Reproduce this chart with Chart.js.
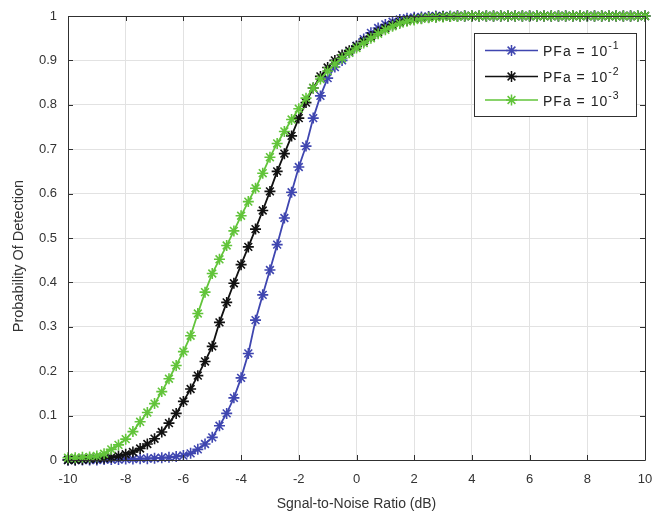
<!DOCTYPE html>
<html>
<head>
<meta charset="utf-8">
<script src="https://cdn.jsdelivr.net/npm/chart.js@4.4.1/dist/chart.umd.min.js"></script>
<style>
  html, body { margin: 0; padding: 0; background: #ffffff; }
  #wrap { width: 654px; height: 515px; position: relative; }
</style>
</head>
<body>
<div id="wrap"><canvas id="c" width="654" height="515"></canvas></div>
<script>
// ---- data ----
const snrDb = [
  -10, -9.75, -9.5, -9.25, -9, -8.75, -8.5, -8.25, -8, -7.75, -7.5, -7.25, -7,
  -6.75, -6.5, -6.25, -6, -5.75, -5.5, -5.25, -5, -4.75, -4.5, -4.25, -4,
  -3.75, -3.5, -3.25, -3, -2.75, -2.5, -2.25, -2, -1.75, -1.5, -1.25, -1,
  -0.75, -0.5, -0.25, 0, 0.25, 0.5, 0.75, 1, 1.25, 1.5, 1.75, 2,
  2.25, 2.5, 2.75, 3, 3.25, 3.5, 3.75, 4, 4.25, 4.5, 4.75, 5,
  5.25, 5.5, 5.75, 6, 6.25, 6.5, 6.75, 7, 7.25, 7.5, 7.75, 8,
  8.25, 8.5, 8.75, 9, 9.25, 9.5, 9.75, 10
];

const pdPfa1 = [
  0, 0, 0, 0, 0, 0.001, 0.001, 0.001, 0.002, 0.002, 0.003, 0.003, 0.004,
  0.005, 0.006, 0.008, 0.010, 0.015, 0.024, 0.036, 0.051, 0.077, 0.105, 0.140, 0.185,
  0.240, 0.315, 0.372, 0.428, 0.485, 0.545, 0.603, 0.660, 0.707, 0.770, 0.820, 0.860,
  0.885, 0.900, 0.918, 0.933, 0.948, 0.962, 0.973, 0.981, 0.987, 0.992, 0.995, 0.997,
  0.998, 0.999, 1, 1, 1, 1, 1, 1, 1, 1, 1, 1,
  1, 1, 1, 1, 1, 1, 1, 1, 1, 1, 1, 1,
  1, 1, 1, 1, 1, 1, 1, 1
];

const pdPfa2 = [
  0, 0, 0.001, 0.002, 0.003, 0.004, 0.006, 0.009, 0.013, 0.018, 0.026, 0.036, 0.048,
  0.063, 0.083, 0.105, 0.132, 0.160, 0.190, 0.222, 0.256, 0.310, 0.355, 0.398, 0.440,
  0.480, 0.520, 0.562, 0.605, 0.650, 0.690, 0.730, 0.770, 0.805, 0.838, 0.864, 0.884,
  0.900, 0.912, 0.922, 0.932, 0.943, 0.954, 0.964, 0.973, 0.980, 0.986, 0.990, 0.993,
  0.995, 0.997, 0.998, 0.999, 0.999, 1, 1, 1, 1, 1, 1, 1,
  1, 1, 1, 1, 1, 1, 1, 1, 1, 1, 1, 1,
  1, 1, 1, 1, 1, 1, 1, 1
];

const pdPfa3 = [
  0.005, 0.005, 0.006, 0.007, 0.009, 0.014, 0.024, 0.034, 0.047, 0.064, 0.086, 0.107, 0.127,
  0.154, 0.183, 0.213, 0.244, 0.280, 0.330, 0.378, 0.420, 0.452, 0.483, 0.516, 0.550,
  0.582, 0.612, 0.646, 0.682, 0.713, 0.740, 0.767, 0.791, 0.815, 0.838, 0.858, 0.876,
  0.892, 0.905, 0.917, 0.928, 0.939, 0.950, 0.960, 0.969, 0.977, 0.983, 0.988, 0.991,
  0.994, 0.996, 0.997, 0.998, 0.999, 0.999, 1, 1, 1, 1, 1, 1,
  1, 1, 1, 1, 1, 1, 1, 1, 1, 1, 1, 1,
  1, 1, 1, 1, 1, 1, 1, 1
];

const seriesBase = ['PFa = 10', 'PFa = 10', 'PFa = 10'];
const seriesExp = ['-1', '-2', '-3'];
const seriesColors = ['#3f46b0', '#111111', '#62c43a'];
const xTickValues = [-10, -8, -6, -4, -2, 0, 2, 4, 6, 8, 10];
const yTickValues = [0, 0.1, 0.2, 0.3, 0.4, 0.5, 0.6, 0.7, 0.8, 0.9, 1];
const xTitle = 'Sgnal-to-Noise Ratio (dB)';
const yTitle = 'Probability Of Detection';

// ---- build datasets ----
const allSeries = [pdPfa1, pdPfa2, pdPfa3];
const datasets = allSeries.map((vals, i) => ({
  label: seriesBase[i] + seriesExp[i],
  data: snrDb.map((x, k) => ({ x: x, y: vals[k] })),
  borderColor: seriesColors[i],
  backgroundColor: seriesColors[i],
  borderWidth: 1.8,
  pointStyle: 'star',
  pointRadius: 5.5,
  pointBorderWidth: 1.6,
  pointBorderColor: seriesColors[i],
  pointHoverRadius: 5.5,
  tension: 0,
  order: 3 - i,
  clip: false
}));

const axisColor = '#303030';

// inward tick marks + full box (MATLAB style)
const boxPlugin = {
  id: 'boxPlugin',
  afterDatasetsDraw(chart) {
    const ctx = chart.ctx;
    const a = chart.chartArea;
    const xs = chart.scales.x, ys = chart.scales.y;
    ctx.save();
    ctx.strokeStyle = axisColor;
    ctx.lineWidth = 1;
    ctx.beginPath();
    ctx.rect(Math.round(a.left) + 0.5, Math.round(a.top) + 0.5,
             Math.round(a.right - a.left), Math.round(a.bottom - a.top));
    ctx.stroke();
    const tl = 5;
    ctx.beginPath();
    xTickValues.forEach(v => {
      const px = Math.round(xs.getPixelForValue(v)) + 0.5;
      ctx.moveTo(px, a.bottom); ctx.lineTo(px, a.bottom - tl);
      ctx.moveTo(px, a.top); ctx.lineTo(px, a.top + tl);
    });
    yTickValues.forEach(v => {
      const py = Math.round(ys.getPixelForValue(v)) + 0.5;
      ctx.moveTo(a.left, py); ctx.lineTo(a.left + tl, py);
      ctx.moveTo(a.right, py); ctx.lineTo(a.right - tl, py);
    });
    ctx.stroke();
    ctx.restore();
  }
};

// legend box with superscripted exponents
function drawStar(ctx, x, y, r) {
  ctx.beginPath();
  ctx.moveTo(x - r, y); ctx.lineTo(x + r, y);
  ctx.moveTo(x, y - r); ctx.lineTo(x, y + r);
  const d = r * Math.SQRT1_2;
  ctx.moveTo(x - d, y - d); ctx.lineTo(x + d, y + d);
  ctx.moveTo(x - d, y + d); ctx.lineTo(x + d, y - d);
  ctx.stroke();
}
const legendPlugin = {
  id: 'matLegend',
  afterDraw(chart) {
    const ctx = chart.ctx;
    const a = chart.chartArea;
    const w = 162, h = 83;
    const left = a.right - 9 - w;
    const top = a.top + 17;
    ctx.save();
    ctx.fillStyle = '#ffffff';
    ctx.fillRect(left, top, w, h);
    ctx.strokeStyle = axisColor;
    ctx.lineWidth = 1;
    ctx.strokeRect(Math.round(left) + 0.5, Math.round(top) + 0.5, w, h);
    const rowY = [17.5, 43.5, 67];
    seriesBase.forEach((txt, i) => {
      const y = top + rowY[i];
      ctx.strokeStyle = seriesColors[i];
      ctx.lineWidth = 1.6;
      ctx.beginPath();
      ctx.moveTo(left + 11, y); ctx.lineTo(left + 64, y);
      ctx.stroke();
      ctx.lineWidth = 1.5;
      drawStar(ctx, left + 37.5, y, 5.5);
      ctx.fillStyle = '#222222';
      ctx.textBaseline = 'middle';
      ctx.textAlign = 'left';
      if ('letterSpacing' in ctx) ctx.letterSpacing = '1px';
      ctx.font = '14px "Liberation Sans", Arial, sans-serif';
      ctx.fillText(txt, left + 69, y + 2);
      const tw = ctx.measureText(txt).width;
      ctx.font = '10.5px "Liberation Sans", Arial, sans-serif';
      ctx.fillText(seriesExp[i], left + 69 + tw, y - 4);
      if ('letterSpacing' in ctx) ctx.letterSpacing = '0px';
    });
    ctx.restore();
  }
};

new Chart(document.getElementById('c'), {
  type: 'line',
  data: { datasets: datasets },
  options: {
    responsive: false,
    animation: false,
    devicePixelRatio: 1,
    layout: { padding: { left: 0, right: 9, top: 16, bottom: 0 } },
    plugins: {
      legend: { display: false },
      tooltip: { enabled: false }
    },
    scales: {
      x: {
        type: 'linear',
        min: -10, max: 10,
        afterFit(scale) { scale.height = 55; scale.paddingRight = 0; scale.paddingLeft = 0; },
        afterBuildTicks(scale) { scale.ticks = xTickValues.map(v => ({ value: v })); },
        ticks: {
          color: '#333333',
          font: { family: '"Liberation Sans", Arial, sans-serif', size: 13 },
          padding: 12,
          maxRotation: 0,
          callback: v => String(v)
        },
        grid: { color: '#e2e2e2', lineWidth: 1, drawTicks: false },
        border: { display: false },
        title: {
          display: true,
          text: xTitle,
          color: '#333333',
          font: { family: '"Liberation Sans", Arial, sans-serif', size: 14 },
          padding: { top: 0, bottom: 2 }
        }
      },
      y: {
        type: 'linear',
        min: 0, max: 1,
        afterFit(scale) { scale.width = 68; scale.paddingTop = 0; scale.paddingBottom = 0; },
        afterBuildTicks(scale) { scale.ticks = yTickValues.map(v => ({ value: v })); },
        ticks: {
          color: '#333333',
          font: { family: '"Liberation Sans", Arial, sans-serif', size: 13 },
          padding: 11,
          callback: v => String(v)
        },
        grid: { color: '#e2e2e2', lineWidth: 1, drawTicks: false },
        border: { display: false },
        title: {
          display: true,
          text: yTitle + '         ',
          color: '#333333',
          font: { family: '"Liberation Sans", Arial, sans-serif', size: 14.5 },
          padding: { top: 10, bottom: 0 }
        }
      }
    }
  },
  plugins: [boxPlugin, legendPlugin]
});
</script>
</body>
</html>
